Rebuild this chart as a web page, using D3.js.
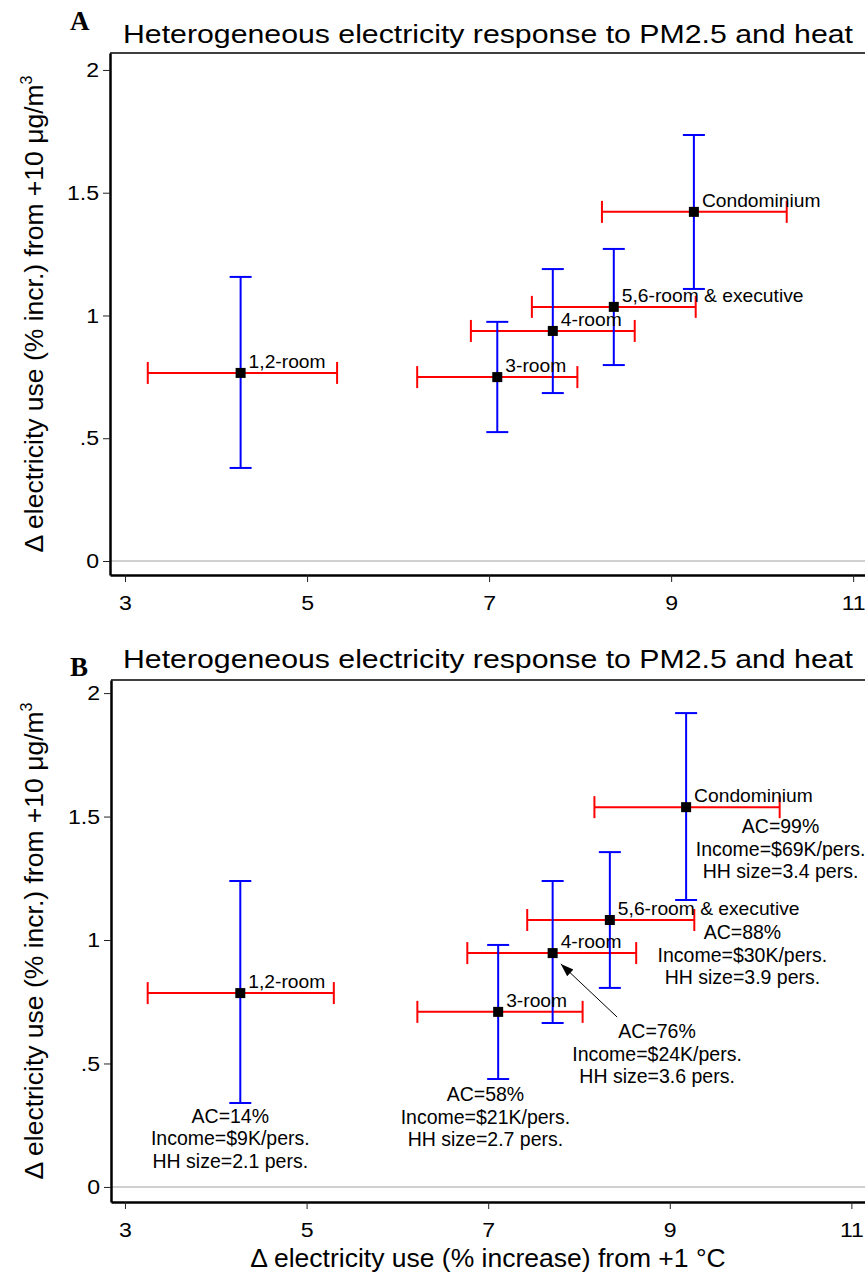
<!DOCTYPE html>
<html>
<head>
<meta charset="utf-8">
<script src="https://cdn.jsdelivr.net/npm/d3@7"></script>
<style>
  body { margin: 0; background: #fff; }
  text { font-family: "Liberation Sans", Arial, sans-serif; fill: #000; }
</style>
</head>
<body>
<div id="container"></div>
<script>
const width = 865, height = 1274

/* DATA */
const types = ["1,2-room", "3-room", "4-room", "5,6-room & executive", "Condominium"]

// panel A: heat effect (x) and PM2.5 effect (y), with 95% CIs
const heatA   = [4.27, 7.09, 7.70, 8.37, 9.25]
const heatLoA = [3.25, 6.21, 6.80, 7.47, 8.24]
const heatHiA = [5.33, 7.97, 8.60, 9.27, 10.27]
const pmA     = [0.766, 0.749, 0.937, 1.035, 1.422]
const pmLoA   = [0.379, 0.525, 0.684, 0.798, 1.108]
const pmHiA   = [1.157, 0.974, 1.189, 1.271, 1.735]

// panel B
const heatB   = [4.27, 7.11, 7.71, 8.34, 9.18]
const heatLoB = [3.25, 6.22, 6.77, 7.43, 8.17]
const heatHiB = [5.30, 8.04, 8.63, 9.27, 10.21]
const pmB     = [0.785, 0.709, 0.947, 1.081, 1.538]
const pmLoB   = [0.340, 0.437, 0.664, 0.806, 1.162]
const pmHiB   = [1.239, 0.980, 1.239, 1.356, 1.919]

const acShare  = ["14%", "58%", "76%", "88%", "99%"]
const income   = ["$9K", "$21K", "$24K", "$30K", "$69K"]
const hhSize   = ["2.1", "2.7", "3.6", "3.9", "3.4"]

const xTicks = [3, 5, 7, 9, 11]
const yTicks = [0, 0.5, 1, 1.5, 2]
const yTickLabels = ["0", ".5", "1", "1.5", "2"]

const titleText = "Heterogeneous electricity response to PM2.5 and heat"

/* LAYOUT */
const panels = [
  { letter: "A", letterY: 30, titleY: 43, top: 53, bottom: 575, left: 110,
    xDomain: [2.835, 11.13], yDomain: [-0.057, 2.069],
    rows: types.map((t, i) => ({ type: t, x: heatA[i], xlo: heatLoA[i], xhi: heatHiA[i], y: pmA[i], ylo: pmLoA[i], yhi: pmHiA[i] })),
    notes: false, xLabel: false },
  { letter: "B", letterY: 676, titleY: 668, top: 680, bottom: 1202, left: 111,
    xDomain: [2.846, 11.15], yDomain: [-0.061, 2.053],
    rows: types.map((t, i) => ({ type: t, x: heatB[i], xlo: heatLoB[i], xhi: heatHiB[i], y: pmB[i], ylo: pmLoB[i], yhi: pmHiB[i] })),
    notes: true, xLabel: true }
]

// where each annotation block sits in panel B (data units, first baseline)
const notePos = [[4.16, 0.26], [6.97, 0.348], [8.86, 0.603], [9.80, 1.004], [10.22, 1.433]]

const svg = d3.select("#container").append("svg")
  .attr("width", width)
  .attr("height", height)

svg.append("defs").append("marker")
  .attr("id", "arrow")
  .attr("viewBox", "0 0 10 10")
  .attr("refX", 10).attr("refY", 5)
  .attr("markerWidth", 13).attr("markerHeight", 13)
  .attr("markerUnits", "userSpaceOnUse")
  .attr("orient", "auto")
  .append("path").attr("d", "M0,1.5 L10,5 L0,8.5 Z").attr("fill", "#000")

function drawPanel(p) {
  const g = svg.append("g")
  const x = d3.scaleLinear().domain(p.xDomain).range([p.left, width])
  const y = d3.scaleLinear().domain(p.yDomain).range([p.bottom, p.top])

  // letter + title
  g.append("text")
    .attr("x", 70).attr("y", p.letterY)
    .style("font-family", "'Liberation Serif', 'Times New Roman', serif")
    .style("font-weight", "bold")
    .style("font-size", "27px")
    .text(p.letter)

  g.append("text")
    .attr("x", 123).attr("y", p.titleY)
    .style("font-size", "25px")
    .attr("textLength", 730)
    .attr("lengthAdjust", "spacingAndGlyphs")
    .text(titleText)

  // top frame line
  g.append("line")
    .attr("x1", p.left).attr("x2", width)
    .attr("y1", p.top).attr("y2", p.top)
    .attr("stroke", "#000").attr("stroke-width", 1.5)

  // zero line
  g.append("line")
    .attr("x1", p.left).attr("x2", width)
    .attr("y1", y(0)).attr("y2", y(0))
    .attr("stroke", "#c0c0c0").attr("stroke-width", 1.5)

  // axes
  const yAxis = d3.axisLeft(y).tickValues(yTicks)
    .tickFormat((d, i) => yTickLabels[i])
    .tickSize(7).tickPadding(3).tickSizeOuter(0)
  const xAxis = d3.axisBottom(x).tickValues(xTicks)
    .tickFormat(d3.format("d"))
    .tickSize(7).tickPadding(13).tickSizeOuter(0)

  const ya = g.append("g")
    .attr("transform", `translate(${p.left},0)`)
    .call(yAxis)
  const xa = g.append("g")
    .attr("transform", `translate(0,${p.bottom})`)
    .call(xAxis)

  for (const a of [ya, xa]) {
    a.select(".domain").attr("stroke", "#000").attr("stroke-width", 2.5)
    a.selectAll(".tick line").attr("stroke", "#222").attr("stroke-width", 1)
    a.selectAll(".tick text")
      .style("font-size", "21px")
      .style("font-family", "'Liberation Sans', Arial, sans-serif")
      .attr("fill", "#111")
      .attr("transform", "scale(1.1,1)")
  }

  // y axis title
  const yl = g.append("text")
    .attr("transform", `translate(43,${(p.top + p.bottom) / 2}) rotate(-90)`)
    .attr("text-anchor", "middle")
    .style("font-size", "26.5px")
  yl.append("tspan").text("\u0394 electricity use (% incr.) from +10 \u03bcg/m")
  yl.append("tspan").attr("dy", -11).style("font-size", "16px").text("3")

  if (p.xLabel) {
    g.append("text")
      .attr("x", (p.left + width) / 2).attr("y", 1267)
      .attr("text-anchor", "middle")
      .style("font-size", "26.5px")
      .text("\u0394 electricity use (% increase) from +1 \u00b0C")
  }

  const cap = 11

  // heat CI (red, horizontal)
  const red = g.append("g").attr("stroke", "#ff0000").attr("stroke-width", 2)
  red.selectAll("line.hbar").data(p.rows).join("line")
    .attr("class", "hbar")
    .attr("x1", d => x(d.xlo)).attr("x2", d => x(d.xhi))
    .attr("y1", d => y(d.y)).attr("y2", d => y(d.y))
  red.selectAll("line.hlo").data(p.rows).join("line")
    .attr("class", "hlo")
    .attr("x1", d => x(d.xlo)).attr("x2", d => x(d.xlo))
    .attr("y1", d => y(d.y) - cap).attr("y2", d => y(d.y) + cap)
  red.selectAll("line.hhi").data(p.rows).join("line")
    .attr("class", "hhi")
    .attr("x1", d => x(d.xhi)).attr("x2", d => x(d.xhi))
    .attr("y1", d => y(d.y) - cap).attr("y2", d => y(d.y) + cap)

  // PM2.5 CI (blue, vertical)
  const blue = g.append("g").attr("stroke", "#0000ff").attr("stroke-width", 2)
  blue.selectAll("line.vbar").data(p.rows).join("line")
    .attr("class", "vbar")
    .attr("x1", d => x(d.x)).attr("x2", d => x(d.x))
    .attr("y1", d => y(d.ylo)).attr("y2", d => y(d.yhi))
  blue.selectAll("line.vlo").data(p.rows).join("line")
    .attr("class", "vlo")
    .attr("x1", d => x(d.x) - cap).attr("x2", d => x(d.x) + cap)
    .attr("y1", d => y(d.ylo)).attr("y2", d => y(d.ylo))
  blue.selectAll("line.vhi").data(p.rows).join("line")
    .attr("class", "vhi")
    .attr("x1", d => x(d.x) - cap).attr("x2", d => x(d.x) + cap)
    .attr("y1", d => y(d.yhi)).attr("y2", d => y(d.yhi))

  // point estimates
  g.selectAll("rect.pt").data(p.rows).join("rect")
    .attr("class", "pt")
    .attr("x", d => x(d.x) - 5).attr("y", d => y(d.y) - 5)
    .attr("width", 10).attr("height", 10)
    .attr("fill", "#000")

  // point labels
  g.selectAll("text.lab").data(p.rows).join("text")
    .attr("class", "lab")
    .attr("transform", d => `translate(${x(d.x) + 8},${y(d.y) - 5}) scale(1.1,1)`)
    .style("font-size", "17.5px")
    .text(d => d.type)

  if (p.notes) {
    types.forEach((t, i) => {
      const lines = [`AC=${acShare[i]}`, `Income=${income[i]}/pers.`, `HH size=${hhSize[i]} pers.`]
      const [nx, ny] = notePos[i]
      g.append("text")
        .attr("text-anchor", "middle")
        .style("font-size", "19.5px")
        .selectAll("tspan").data(lines).join("tspan")
        .attr("x", x(nx))
        .attr("y", (d, k) => y(ny) + k * 22.5)
        .text(d => d)
    })

    // arrow pointing to the 4-room estimate
    g.append("line")
      .attr("x1", x(8.42)).attr("y1", y(0.688))
      .attr("x2", x(7.80)).attr("y2", y(0.903))
      .attr("stroke", "#000").attr("stroke-width", 1)
      .attr("marker-end", "url(#arrow)")
  }
}

panels.forEach(drawPanel)
</script>
</body>
</html>
